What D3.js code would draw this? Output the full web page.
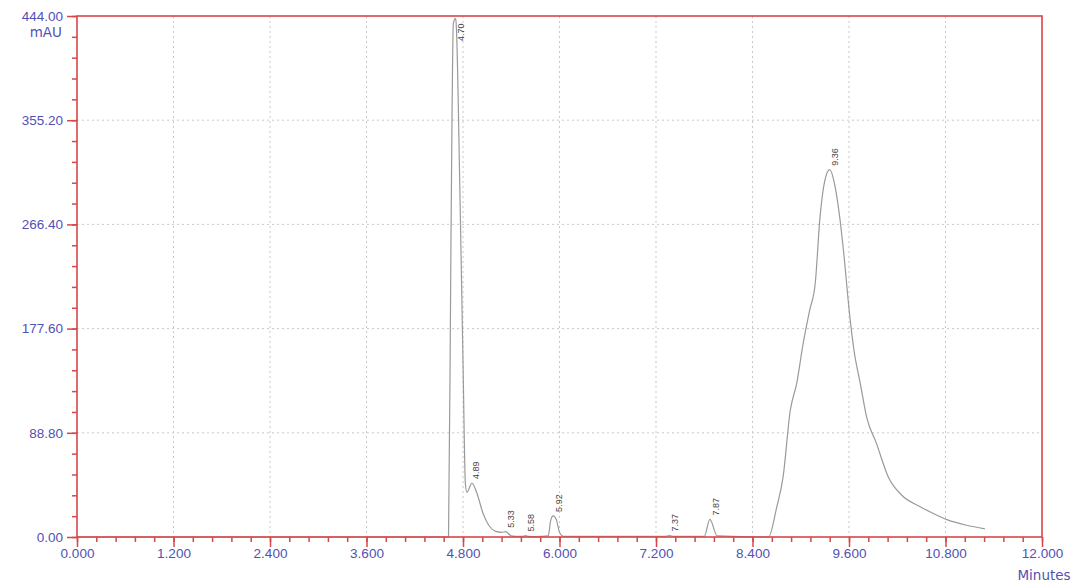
<!DOCTYPE html>
<html lang="en">
  <head>
    <meta charset="UTF-8" />
    <title>Chromatogram</title>
    <style>
      body {
        margin: 0;
        background: #fff;
      }
      svg {
        display: block;
        font-family: 'DejaVu Sans', Arial, sans-serif;
      }
      .tick-label {
        fill: #5151b4;
        font-size: 13.5px;
      }
      .peak-label {
        fill: #444;
        font-size: 9px;
        font-family: Arial, 'Liberation Sans', sans-serif;
      }
    </style>
  </head>
  <body>
    <script src="https://cdn.jsdelivr.net/npm/d3@7"></script>
    <svg id="chart" width="1078" height="584"></svg>
    <script>
      // trace (minutes, mAU)
      const times = [
        0, 4.62, 4.65, 4.68, 4.71, 4.72, 4.76, 4.8, 4.83, 4.85, 4.88, 4.91,
        4.97, 5.05, 5.12, 5.2, 5.28, 5.33, 5.4, 5.5, 5.56, 5.58, 5.61, 5.7,
        5.86, 5.89, 5.92, 5.96, 6.0, 6.05, 7.3, 7.37, 7.42, 7.8, 7.87, 7.96,
        8.6, 8.7, 8.78, 8.87, 8.95, 9.03, 9.11, 9.18, 9.24, 9.3, 9.36, 9.42,
        9.48, 9.53, 9.61, 9.66, 9.74, 9.82, 9.94, 10.09, 10.25, 10.48, 10.65,
        10.81, 11.06, 11.29,
      ];
      const values = [
        0, 0, 250, 438, 442, 430, 300, 150, 45, 38, 42, 46, 38, 20, 10, 5, 4,
        4.5, 1, 0.5, 0.8, 1.2, 0.5, 0.3, 1, 14, 18, 15, 4, 0.5, 0.5, 1.2, 0.5,
        0.5, 15, 1, 0, 25, 51, 108, 131, 165, 193, 216, 273, 304, 313, 301,
        275, 245, 188, 160, 131, 102, 80, 51, 36, 26, 20, 15, 10, 7,
      ];

      const peakNames = ['4.70', '4.89', '5.33', '5.58', '5.92', '7.37', '7.87', '9.36'];
      const peakTimes = [4.7, 4.89, 5.33, 5.58, 5.92, 7.37, 7.87, 9.36];
      const peakHeights = [442, 46, 4.5, 1.2, 18, 1.2, 15, 313];

      const xMajor = [0, 1.2, 2.4, 3.6, 4.8, 6.0, 7.2, 8.4, 9.6, 10.8, 12.0];
      const yMajor = [0, 88.8, 177.6, 266.4, 355.2, 444.0];

      const margin = { left: 77, top: 16, right: 36, bottom: 47 },
        width = 1078 - margin.left - margin.right,
        height = 584 - margin.top - margin.bottom;

      const red = '#d64848';

      const x = d3.scaleLinear().domain([0, 12]).range([0, width]);
      const y = d3.scaleLinear().domain([0, 444]).range([height, 0]);

      const xMinor = d3.range(0, 12.001, 0.24);
      const yMinor = d3.range(0, 444.001, 17.76);

      const svg = d3.select('#chart');
      const chart = svg
        .append('g')
        .attr('transform', 'translate(' + margin.left + ',' + margin.top + ')');

      // dotted grid
      chart
        .selectAll('.vgrid')
        .data(xMajor.slice(1, -1))
        .enter()
        .append('line')
        .attr('x1', (d) => x(d))
        .attr('x2', (d) => x(d))
        .attr('y1', 0)
        .attr('y2', height)
        .attr('stroke', '#c9c9c9')
        .attr('stroke-dasharray', '2,3');

      chart
        .selectAll('.hgrid')
        .data(yMajor.slice(1, -1))
        .enter()
        .append('line')
        .attr('x1', 0)
        .attr('x2', width)
        .attr('y1', (d) => y(d))
        .attr('y2', (d) => y(d))
        .attr('stroke', '#c9c9c9')
        .attr('stroke-dasharray', '2,3');

      // trace
      const line = d3
        .line()
        .x((d) => x(d[0]))
        .y((d) => y(d[1]))
        .curve(d3.curveMonotoneX);

      chart
        .append('path')
        .datum(times.map((t, i) => [t, values[i]]))
        .attr('d', line)
        .attr('fill', 'none')
        .attr('stroke', '#9a9a9a')
        .attr('stroke-width', 1.2);

      // peak labels, rotated
      chart
        .selectAll('.peak-label')
        .data(peakNames)
        .enter()
        .append('text')
        .attr('class', 'peak-label')
        .attr('transform', (d, i) => {
          const px = x(peakTimes[i]) + 2;
          const py = Math.max(y(peakHeights[i]) - 4, 25);
          return 'translate(' + px + ',' + py + ') rotate(-90)';
        })
        .attr('dy', '0.75em')
        .text((d) => d);

      // axes
      chart
        .append('g')
        .attr('transform', 'translate(0,' + height + ')')
        .call(
          d3.axisBottom(x).tickValues(xMajor).tickSize(10).tickPadding(1)
            .tickFormat(d3.format('.3f')),
        );
      chart
        .append('g')
        .attr('transform', 'translate(0,' + height + ')')
        .call(d3.axisBottom(x).tickValues(xMinor).tickSize(5).tickFormat(''));

      chart
        .append('g')
        .call(
          d3.axisLeft(y).tickValues(yMajor).tickSize(10).tickPadding(4)
            .tickFormat(d3.format('.2f')),
        );
      chart
        .append('g')
        .call(d3.axisLeft(y).tickValues(yMinor).tickSize(5).tickFormat(''));

      chart.selectAll('.domain').remove();
      chart.selectAll('.tick line').attr('stroke', red).attr('stroke-width', 1.5);
      chart
        .selectAll('.tick text')
        .attr('class', 'tick-label')
        .attr('font-size', null)
        .attr('font-family', null);

      // red frame
      chart
        .append('rect')
        .attr('x', 0)
        .attr('y', 0)
        .attr('width', width)
        .attr('height', height)
        .attr('fill', 'none')
        .attr('stroke', red)
        .attr('stroke-width', 1.6);

      // units
      chart
        .append('text')
        .attr('class', 'tick-label')
        .attr('x', -15)
        .attr('y', 21)
        .attr('text-anchor', 'end')
        .text('mAU');

      chart
        .append('text')
        .attr('class', 'tick-label')
        .attr('x', width + 2)
        .attr('y', height + 43)
        .attr('text-anchor', 'middle')
        .text('Minutes');
    </script>
  </body>
</html>
